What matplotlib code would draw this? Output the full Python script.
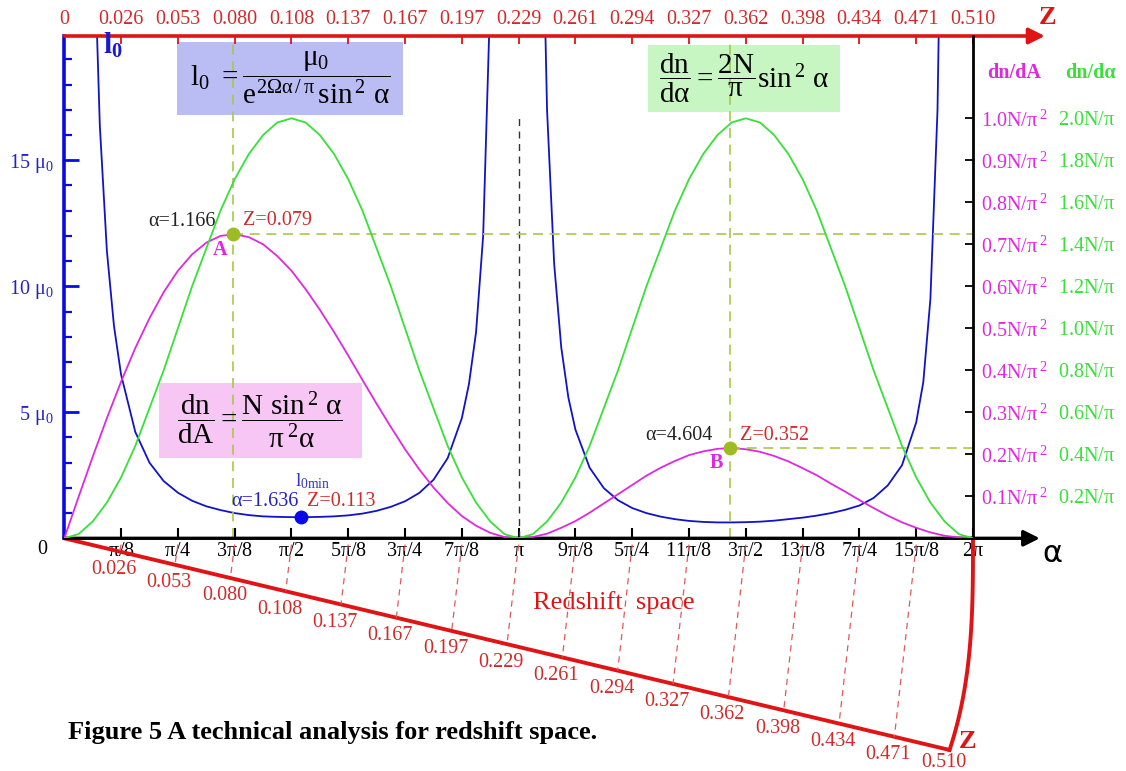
import numpy as np
import matplotlib.pyplot as plt
from matplotlib.patches import Rectangle

# ---------------------------------------------------------------
# data

# green and magenta curves are sampled every pi/32 from 0 to 2*pi
steps32 = np.arange(65)

# dn/dalpha in units of N/pi (green)
dn_dalpha = [0, 0.02, 0.08, 0.17, 0.29, 0.44, 0.62, 0.80, 1.00, 1.20, 1.38, 1.56, 1.71, 1.83, 1.92, 1.98, 2.00,
             1.98, 1.92, 1.83, 1.71, 1.56, 1.38, 1.20, 1.00, 0.80, 0.62, 0.44, 0.29, 0.17, 0.08, 0.02, 0,
             0.02, 0.08, 0.17, 0.29, 0.44, 0.62, 0.80, 1.00, 1.20, 1.38, 1.56, 1.71, 1.83, 1.92, 1.98, 2.00,
             1.98, 1.92, 1.83, 1.71, 1.56, 1.38, 1.20, 1.00, 0.80, 0.62, 0.44, 0.29, 0.17, 0.08, 0.02, 0]

# dn/dA in units of N/pi^2 (magenta)
dn_dA = [0, 0.098, 0.194, 0.286, 0.373, 0.453, 0.524, 0.586, 0.637, 0.676, 0.704, 0.720, 0.724, 0.717, 0.700, 0.672,
         0.637, 0.593, 0.544, 0.491, 0.435, 0.377, 0.320, 0.265, 0.212, 0.164, 0.121, 0.084, 0.053, 0.030, 0.013, 0.003,
         0, 0.003, 0.011, 0.025, 0.041, 0.061, 0.083, 0.105, 0.127, 0.149, 0.168, 0.184, 0.198, 0.207, 0.213, 0.215,
         0.212, 0.206, 0.196, 0.183, 0.167, 0.150, 0.130, 0.111, 0.091, 0.072, 0.054, 0.038, 0.025, 0.014, 0.006, 0.002, 0]

# l0 in units of mu0 (blue), positions in steps of pi/64
l0_steps = [4, 5, 6, 7, 8, 10, 12, 14, 16, 18, 20, 22, 24, 26, 28, 30, 32, 34, 36, 38, 40, 42, 44, 46, 48,
            50, 52, 54, 56, 57, 58, 59, 60, 61,
            67, 68, 69, 70, 71, 72, 74, 76, 78, 80, 82, 84, 86, 88, 90, 92, 94, 96, 98, 100, 102, 104, 106,
            108, 110, 112, 114, 116, 118, 120, 121, 122, 123, 124]
l0 = [25.6, 16.4, 11.4, 8.42, 6.49, 4.22, 3.00, 2.27, 1.81, 1.49, 1.27, 1.12, 1.00, 0.92, 0.87, 0.85, 0.84,
      0.84, 0.85, 0.87, 0.91, 0.98, 1.09, 1.25, 1.47, 1.80, 2.32, 3.18, 4.77, 6.12, 8.18, 12.0, 21.5, 31.4,
      30.2, 17.0, 10.9, 7.58, 5.59, 4.31, 2.80, 1.99, 1.51, 1.20, 1.00, 0.86, 0.76, 0.69, 0.65, 0.63, 0.63,
      0.64, 0.66, 0.70, 0.76, 0.82, 0.90, 1.00, 1.13, 1.30, 1.60, 2.10, 2.90, 4.60, 6.20, 9.50, 17.0, 35.0]

alpha_ticks = [r'$\pi/8$', r'$\pi/4$', r'$3\pi/8$', r'$\pi/2$', r'$5\pi/8$', r'$3\pi/4$', r'$7\pi/8$', r'$\pi$',
               r'$9\pi/8$', r'$5\pi/4$', r'$11\pi/8$', r'$3\pi/2$', r'$13\pi/8$', r'$7\pi/4$', r'$15\pi/8$', r'$2\pi$']
z_ticks = ['0', '0.026', '0.053', '0.080', '0.108', '0.137', '0.167', '0.197', '0.229',
           '0.261', '0.294', '0.327', '0.362', '0.398', '0.434', '0.471', '0.510']
dnA_ticks = [0.1, 0.2, 0.3, 0.4, 0.5, 0.6, 0.7, 0.8, 0.9, 1.0]
dnalpha_ticks = [0.2, 0.4, 0.6, 0.8, 1.0, 1.2, 1.4, 1.6, 1.8, 2.0]

# marked points
alpha_A, peak_A = 1.166, 0.724
alpha_B, peak_B = 4.604, 0.214
alpha_min, l0_min = 1.636, 0.84

# ---------------------------------------------------------------
BLUE = '#1212c8'
GREEN = '#38e038'
MAGENTA = '#e028e0'
RED = '#e01414'
RTEXT = '#d22a2a'
OLIVE = '#a8c846'

plt.rcParams['font.family'] = ['Liberation Serif', 'DejaVu Serif']
plt.rcParams['mathtext.fontset'] = 'custom'
plt.rcParams['mathtext.rm'] = 'Liberation Serif'
plt.rcParams['mathtext.it'] = 'Liberation Serif'
plt.rcParams['mathtext.bf'] = 'Liberation Serif:bold'

W, H = 1126, 771
fig = plt.figure(figsize=(W / 100, H / 100), dpi=100)


def fx(x):
    return x / W


def fy(y):
    return 1 - y / H


# pixel frame of the plot
x0, x1 = 64.3, 973.0
y0, y1 = 538.3, 36.0
px_mu = 25.2      # pixels per mu0
px_A = 420.0      # pixels per N/pi^2
px_al = 210.0     # pixels per N/pi

ax = fig.add_axes([fx(x0), fy(y0), (x1 - x0) / W, (y0 - y1) / H])
axm = ax.twinx()
axg = ax.twinx()
for a in (ax, axm, axg):
    a.set_xlim(0, 2 * np.pi)
    a.patch.set_visible(False)
    for s in a.spines.values():
        s.set_visible(False)
ax.set_ylim(0, (y0 - y1) / px_mu)
axm.set_ylim(0, (y0 - y1) / px_A)
axg.set_ylim(0, (y0 - y1) / px_al)
ytop = ax.get_ylim()[1]


# formula boxes (behind the axes)
def box(xa, ya, xb, yb, color):
    fig.add_artist(Rectangle((fx(xa), fy(yb)), (xb - xa) / W, (yb - ya) / H,
                             transform=fig.transFigure, fc=color, ec='none', zorder=-5))


box(177, 42, 403, 115, '#b9bdf3')
box(648, 45, 840, 112, '#c8f6c2')
box(159, 383, 362, 458, '#f8c6f4')

# curves
alpha = steps32 * np.pi / 32
axg.plot(alpha, dn_dalpha, color=GREEN, lw=1.3)
axm.plot(alpha, dn_dA, color=MAGENTA, lw=1.3)
ax.plot(np.array(l0_steps) * np.pi / 64, l0, color=BLUE, lw=1.3)

# left axis
ax.spines['left'].set_visible(True)
ax.spines['left'].set_color('#0a0ae6')
ax.spines['left'].set_linewidth(2.6)
ax.set_yticks([5, 10, 15])
ax.set_yticks(np.arange(1, 20), minor=True)
ax.set_yticklabels([r'$5\ \mu_0$', r'$10\ \mu_0$', r'$15\ \mu_0$'])
ax.tick_params(axis='y', which='major', direction='in', length=11, width=2, color='#0a0ae6',
               labelcolor='#2222cc', labelsize=14.5, pad=8)
ax.tick_params(axis='y', which='minor', direction='in', length=5.5, width=1.6, color='#0a0ae6')

# bottom alpha axis
ax.set_xticks(np.arange(1, 17) * np.pi / 8)
ax.set_xticklabels(alpha_ticks)
ax.tick_params(axis='x', direction='in', length=7, width=1.5, color='black', labelsize=14.5, pad=3)
ax.annotate('', xy=(6.745, 0), xytext=(0, 0), xycoords='data', annotation_clip=False,
            arrowprops=dict(arrowstyle='-|>', color='black', lw=2.4, mutation_scale=24, shrinkA=0, shrinkB=0))

# top Z axis
top = ax.secondary_xaxis('top')
top.set_xticks(np.arange(17) * np.pi / 8)
top.set_xticklabels(z_ticks)
top.tick_params(direction='in', length=6, width=1.3, color=RED, labelcolor=RTEXT, labelsize=14.5, pad=5)
for s in top.spines.values():
    s.set_visible(False)
ax.annotate('', xy=(6.78, ytop), xytext=(0, ytop), xycoords='data', annotation_clip=False,
            arrowprops=dict(arrowstyle='-|>', color=RED, lw=2.6, mutation_scale=24, shrinkA=0, shrinkB=0))

# right axes
axm.spines['right'].set_visible(True)
axm.spines['right'].set_color('black')
axm.spines['right'].set_linewidth(2)
axm.set_yticks(dnA_ticks)
axm.set_yticklabels([r'$%.1fN/\pi^{\,2}$' % v for v in dnA_ticks])
axm.tick_params(axis='y', direction='in', length=6, width=1.3, color='black',
                labelcolor=MAGENTA, labelsize=14.5, pad=6)
axg.set_yticks(dnalpha_ticks)
axg.set_yticklabels([r'$%.1fN/\pi$' % v for v in dnalpha_ticks])
axg.tick_params(axis='y', length=0, labelcolor=GREEN, labelsize=14.5, pad=61)

# guide lines and marked points
ax.plot([np.pi, np.pi], [0, 16.8], color='#333333', lw=1, dashes=(5, 4))
ax.plot([alpha_A, alpha_A], [0, ytop - 0.1], color=OLIVE, lw=1.2, dashes=(6, 4))
ax.plot([alpha_B, alpha_B], [0, ytop - 0.1], color=OLIVE, lw=1.2, dashes=(6, 4))
axm.plot([alpha_A, 2 * np.pi], [peak_A, peak_A], color=OLIVE, lw=1.2, dashes=(6, 4))
axm.plot([alpha_B, 2 * np.pi], [peak_B, peak_B], color=OLIVE, lw=1.2, dashes=(6, 4))
axm.plot(alpha_A, peak_A, 'o', color='#9dbb22', ms=9, zorder=5)
axm.plot(alpha_B, peak_B, 'o', color='#9dbb22', ms=9, zorder=5)
ax.plot(alpha_min, l0_min, 'o', color='#0a0ae6', ms=9, zorder=5)

ax.text(1.048, 12.57, 'α=1.166', ha='right', va='center', fontsize=14.5, color='#222222')
ax.text(1.235, 12.6, 'Z=0.079', ha='left', va='center', fontsize=14.5, color=RTEXT)
ax.text(1.076, 11.44, 'A', ha='center', va='center', fontsize=14.5, color=MAGENTA, fontweight='bold')
ax.text(4.483, 4.08, 'α=4.604', ha='right', va='center', fontsize=14.5, color='#222222')
ax.text(4.670, 4.08, 'Z=0.352', ha='left', va='center', fontsize=14.5, color=RTEXT)
ax.text(4.507, 2.97, 'B', ha='center', va='center', fontsize=14.5, color=MAGENTA, fontweight='bold')
ax.text(1.719, 2.28, r'$l_{0min}$', ha='center', va='center', fontsize=14, color='#3333cc')
ax.text(1.617, 1.48, 'α=1.636', ha='right', va='center', fontsize=14.5, color='#2222cc')
ax.text(1.677, 1.48, 'Z=0.113', ha='left', va='center', fontsize=14.5, color=RTEXT)

# formulas
fig.text(fx(290), fy(78), r'$l_{0}\ = \dfrac{\mu_{0}}{e^{2\Omega\alpha\,/\,\pi}\,\sin^{\,2}\,\alpha}$',
         ha='center', va='center', fontsize=21)
fig.text(fx(744), fy(78), r'$\dfrac{dn}{d\alpha} = \dfrac{2N}{\pi}\sin^{\,2}\,\alpha$',
         ha='center', va='center', fontsize=21)
fig.text(fx(260), fy(420), r'$\dfrac{dn}{dA} = \dfrac{N\ \sin^{\,2}\,\alpha}{\pi^{\,2}\alpha}$',
         ha='center', va='center', fontsize=21)

# axis names
fig.text(fx(113), fy(45), r'$\mathbf{l_0}$', ha='center', va='center', fontsize=21, color='#1a1ad0')
fig.text(fx(42), fy(549), '0', ha='center', va='center', fontsize=14.5)
fig.text(fx(1052), fy(553), 'α', ha='center', va='center', fontsize=22, family='DejaVu Sans')
fig.text(fx(1047), fy(17), 'Z', ha='center', va='center', fontsize=19, color=RED, fontweight='bold')
fig.text(fx(1014), fy(73), 'dn/dA', ha='center', va='center', fontsize=14.5, color=MAGENTA, fontweight='bold')
fig.text(fx(1090), fy(73), 'dn/dα', ha='center', va='center', fontsize=14.5, color=GREEN, fontweight='bold')

# ---------------------------------------------------------------
# redshift space below the alpha axis (same data units, outside the frame)
a_end, y_end = 6.121, -8.40
slope = -y_end / a_end
lean = 0.11 * px_mu / 144.7
ax.plot([0, a_end], [0, y_end], color=RED, lw=2.8, clip_on=False, solid_capstyle='round')
t = np.linspace(0, 1, 40)
ax.plot(2 * np.pi - (2 * np.pi - a_end) * t ** 3, y_end * t, color=RED, lw=2.8, clip_on=False)
for k in range(1, 17):
    ak = k * np.pi / 8
    ab = ak / (1 + lean * slope)
    dy = 0.71 if k < 16 else 0.5
    if k < 16:
        ax.plot([ak, ab], [-0.25, -slope * ab], color='#e05a5a', lw=0.9, dashes=(5, 4), clip_on=False)
    ax.text(ab - 0.041, -slope * ab - dy, z_ticks[k], ha='center', va='center', fontsize=14.5,
            color=RTEXT, clip_on=False)
fig.text(fx(968), fy(741), 'Z', ha='center', va='center', fontsize=19, color=RED, fontweight='bold')
fig.text(fx(614), fy(603), 'Redshift  space', ha='center', va='center', fontsize=19, color=RED)

fig.text(fx(68), fy(733), 'Figure 5 A technical analysis for redshift space.', ha='left', va='center',
         fontsize=19, fontweight='bold')

fig.savefig('out.png', dpi=100)
